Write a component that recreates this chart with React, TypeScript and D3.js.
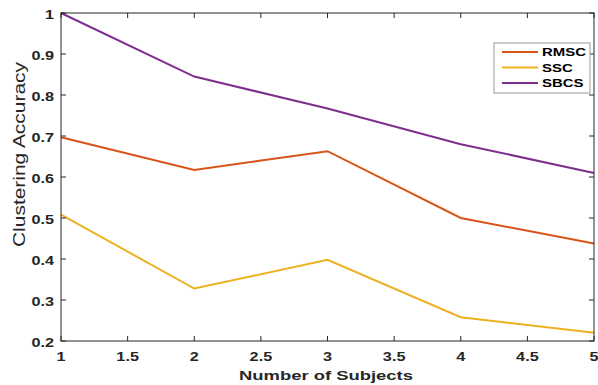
import React from "react";
import * as d3 from "d3";

const subjects = [1, 2, 3, 4, 5];
const rmsc = [0.697, 0.617, 0.663, 0.5, 0.438];
const ssc = [0.508, 0.328, 0.398, 0.258, 0.22];
const sbcs = [1.0, 0.845, 0.767, 0.68, 0.61];
const xTicks = [1, 1.5, 2, 2.5, 3, 3.5, 4, 4.5, 5];
const yTicks = [0.2, 0.3, 0.4, 0.5, 0.6, 0.7, 0.8, 0.9, 1];

const series = [
  { name: "RMSC", values: rmsc, color: "#D95319" },
  { name: "SSC", values: ssc, color: "#EDB120" },
  { name: "SBCS", values: sbcs, color: "#7E2F8E" },
];

const W = 598;
const H = 385;
const left = 61;
const right = 594;
const top = 13;
const bottom = 341;
const axisColor = "#262626";
const font = "'Liberation Sans', Arial, sans-serif";
// the reference image is stretched sideways
const sx = 1.3;

export default function App() {
  const x = d3.scaleLinear().domain([1, 5]).range([left, right]);
  const y = d3.scaleLinear().domain([0.2, 1]).range([bottom, top]);
  const line = d3
    .line<number>()
    .x((_, i) => x(subjects[i]))
    .y((d) => y(d));

  return (
    <svg
      width={W}
      height={H}
      style={{ position: "absolute", left: 0, top: 0, background: "#fff" }}
    >
      {series.map((s) => (
        <path
          key={s.name}
          d={line(s.values) || ""}
          fill="none"
          stroke={s.color}
          strokeWidth={2}
        />
      ))}
      <rect
        x={left}
        y={top}
        width={right - left}
        height={bottom - top}
        fill="none"
        stroke={axisColor}
        strokeWidth={1}
      />
      {xTicks.map((t) => (
        <g key={"x" + t}>
          <line x1={x(t)} x2={x(t)} y1={bottom} y2={bottom - 5} stroke={axisColor} />
          <line x1={x(t)} x2={x(t)} y1={top} y2={top + 5} stroke={axisColor} />
          <text
            transform={`translate(${x(t)}, ${bottom + 20}) scale(${sx}, 1)`}
            textAnchor="middle"
            fontFamily={font}
            fontWeight="bold"
            fontSize={12.5}
            fill={axisColor}
          >
            {String(t)}
          </text>
        </g>
      ))}
      {yTicks.map((t) => (
        <g key={"y" + t}>
          <line x1={left} x2={left + 5} y1={y(t)} y2={y(t)} stroke={axisColor} />
          <line x1={right} x2={right - 5} y1={y(t)} y2={y(t)} stroke={axisColor} />
          <text
            transform={`translate(${left - 7}, ${y(t) + 6}) scale(${sx}, 1)`}
            textAnchor="end"
            fontFamily={font}
            fontWeight="bold"
            fontSize={12.5}
            fill={axisColor}
          >
            {String(t)}
          </text>
        </g>
      ))}
      <text
        x={326}
        y={380}
        textAnchor="middle"
        fontFamily={font}
        fontWeight="bold"
        fontSize={13.5}
        textLength={174}
        lengthAdjust="spacingAndGlyphs"
        fill={axisColor}
      >
        Number of Subjects
      </text>
      <text
        transform={`translate(24.5, 154.5) rotate(-90)`}
        textAnchor="middle"
        fontFamily={font}
        fontSize={16.5}
        textLength={185}
        lengthAdjust="spacingAndGlyphs"
        fill={axisColor}
      >
        Clustering Accuracy
      </text>
      <g>
        <rect x={494} y={43} width={96} height={50} fill="#fff" stroke="#999" strokeWidth={1} />
        {series.map((s, i) => (
          <g key={"l" + s.name}>
            <line
              x1={502}
              x2={538}
              y1={52 + i * 15.5}
              y2={52 + i * 15.5}
              stroke={s.color}
              strokeWidth={2}
            />
            <text
              transform={`translate(542, ${56 + i * 15.5}) scale(${sx}, 1)`}
              fontFamily={font}
              fontWeight="bold"
              fontSize={11.5}
              fill="#000"
            >
              {s.name}
            </text>
          </g>
        ))}
      </g>
    </svg>
  );
}
